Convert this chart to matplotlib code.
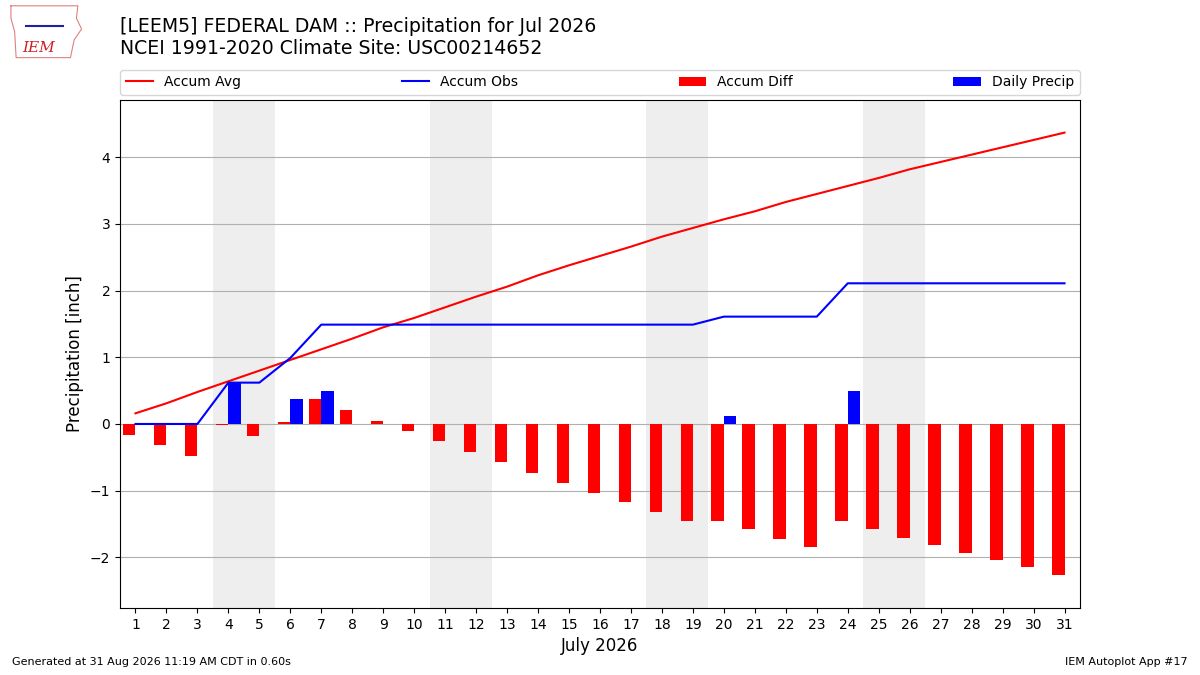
import numpy as np
import matplotlib
matplotlib.use("Agg")
import matplotlib.pyplot as plt

# ── data ───────────────────────────────────────────────────────────────────
days = np.arange(1, 32)
accum_avg = [0.16, 0.31, 0.48, 0.64, 0.80, 0.96, 1.12, 1.28, 1.45, 1.59,
             1.75, 1.91, 2.06, 2.23, 2.38, 2.52, 2.66, 2.81, 2.94, 3.07,
             3.19, 3.33, 3.45, 3.57, 3.69, 3.82, 3.93, 4.04, 4.15, 4.26, 4.37]
daily_precip = [0, 0, 0, 0.62, 0, 0.37, 0.50, 0, 0, 0,
                0, 0, 0, 0, 0, 0, 0, 0, 0, 0.12,
                0, 0, 0, 0.50, 0, 0, 0, 0, 0, 0, 0]
weekends = [(3.5, 5.5), (10.5, 12.5), (17.5, 19.5), (24.5, 26.5)]

accum_obs = np.cumsum(daily_precip)
accum_diff = accum_obs - np.array(accum_avg)

fig = plt.figure(figsize=(12, 6.75), dpi=100)
ax = fig.add_axes([0.1, 0.0993, 0.8, 0.7526])

for x0, x1 in weekends:
    ax.axvspan(x0, x1, color="#eeeeee", zorder=0, lw=0)

ax.plot(days, accum_avg, color="red", lw=1.5, label="Accum Avg", zorder=3)
ax.plot(days, accum_obs, color="blue", lw=1.5, label="Accum Obs", zorder=3)
ax.bar(days - 0.2, accum_diff, 0.4, color="red", label="Accum Diff", zorder=2)
ax.bar(days + 0.2, daily_precip, 0.4, color="blue", label="Daily Precip", zorder=2)

ax.set_xlim(0.5, 31.5)
ax.set_ylim(-2.76, 4.86)
ax.set_xticks(days)
ax.set_yticks([-2, -1, 0, 1, 2, 3, 4])
ax.grid(axis="y", color="#b0b0b0", lw=0.8, zorder=1)
ax.set_axisbelow(True)
ax.set_xlabel("July 2026", fontsize=12)
ax.set_ylabel("Precipitation [inch]", fontsize=12)
ax.tick_params(labelsize=10)

ax.legend(loc="lower left", bbox_to_anchor=(0, 1.01, 1, 0.1), ncol=4,
          mode="expand", borderaxespad=0, fontsize=10)

fig.text(0.1, 0.975, "[LEEM5] FEDERAL DAM :: Precipitation for Jul 2026\n"
         "NCEI 1991-2020 Climate Site: USC00214652",
         fontsize=13.6, va="top", ha="left", linespacing=1.2)

fig.text(0.01, 0.012, "Generated at 31 Aug 2026 11:19 AM CDT in 0.60s",
         fontsize=8, ha="left", va="bottom")
fig.text(0.99, 0.012, "IEM Autoplot App #17", fontsize=8,
         ha="right", va="bottom")

# rough stand-in for the IEM logo
logo = fig.add_axes([0.006, 0.913, 0.062, 0.08])
logo.set_xlim(0, 1)
logo.set_ylim(0, 1)
logo.axis("off")
outline_x = [0.05, 0.95, 0.93, 1.0, 0.9, 0.85, 0.12, 0.1, 0.05, 0.05]
outline_y = [0.98, 0.98, 0.75, 0.55, 0.35, 0.02, 0.02, 0.5, 0.75, 0.98]
logo.plot(outline_x, outline_y, color="#e08080", lw=0.8)
logo.plot([0.25, 0.75], [0.6, 0.6], color="#2020a0", lw=1.5)
logo.text(0.42, 0.2, "IEM", color="#d02020", fontsize=11, style="italic",
          family="DejaVu Serif", ha="center", va="center")

fig.savefig("out.png", dpi=100)
